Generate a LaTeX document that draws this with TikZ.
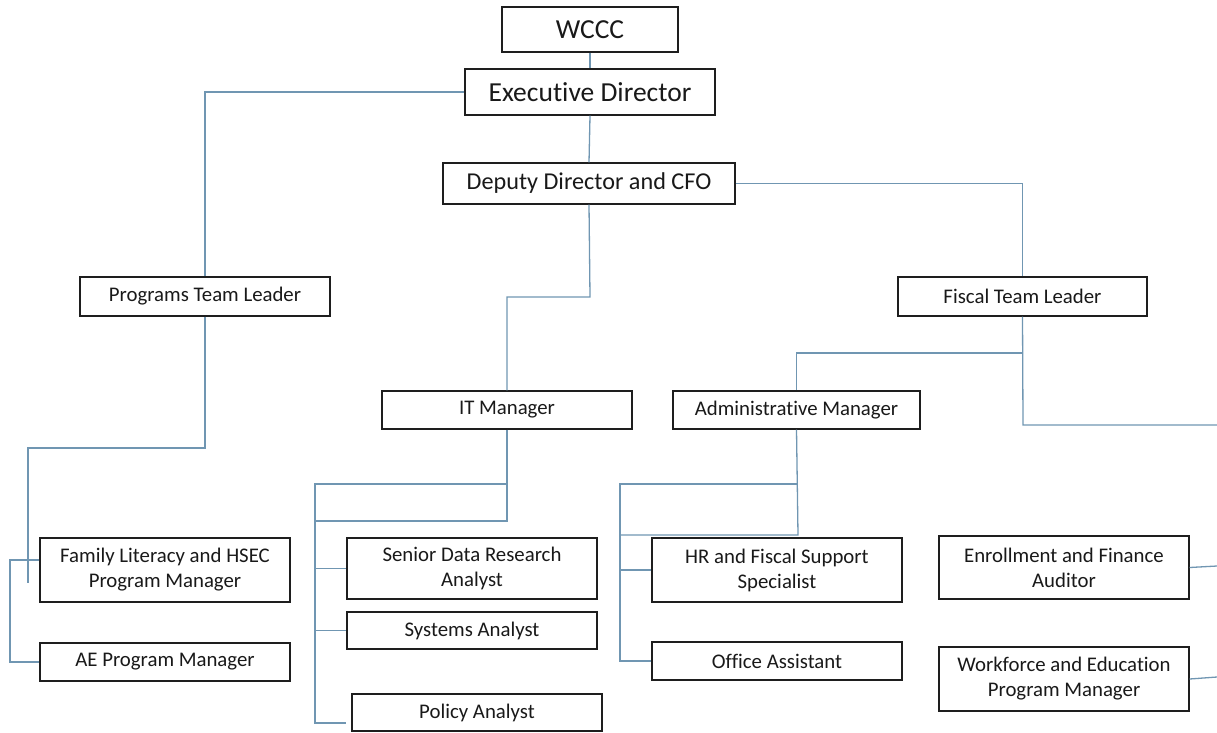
\documentclass[tikz,border=0pt]{standalone}
\usepackage{fontspec}
\setmainfont{Carlito}[RawFeature={-liga;-clig;-calt;-dlig}]
\usetikzlibrary{calc}
\definecolor{conn}{RGB}{112,150,178}
\definecolor{boxline}{RGB}{30,30,30}
\definecolor{txt}{RGB}{25,25,25}
\begin{document}
\begin{tikzpicture}[x=1pt,y=-1pt,
  orgbox/.style={draw=boxline, line width=1.2pt, fill=white, text=txt, align=center, inner sep=0pt,
    font=\fontsize{20.8}{25}\selectfont},
  bigbox/.style={orgbox, font=\fontsize{27.5}{31}\selectfont},
  midbox/.style={orgbox, font=\fontsize{24.2}{28}\selectfont},
  link/.style={draw=conn, line width=1.3pt}]
\useasboundingbox (0,0) rectangle (1217,732);

% nodes
\node[bigbox, minimum width=176pt, minimum height=45pt] (wccc) at (590,29.5) {WCCC};
\node[bigbox, minimum width=250pt, minimum height=46pt] (exec) at (590,92) {Executive Director};
\node[midbox, minimum width=292pt, minimum height=41pt] (dep) at (589,183.5) {Deputy Director and CFO};
\node[orgbox, minimum width=250pt, minimum height=39pt] (prog) at (205,296.5) {Programs Team Leader};
\node[orgbox, minimum width=249pt, minimum height=39pt] (fisc) at (1022.5,296.5) {Fiscal Team Leader};
\node[orgbox, minimum width=250pt, minimum height=38pt] (it) at (507,410) {IT Manager};
\node[orgbox, minimum width=247pt, minimum height=38pt] (adm) at (796.5,410) {Administrative Manager};
\node[orgbox, minimum width=250pt, minimum height=64pt] (fam) at (165,570) {Family Literacy and HSEC\\Program Manager};
\node[orgbox, minimum width=250pt, minimum height=38pt] (ae) at (165,662) {AE Program Manager};
\node[orgbox, minimum width=250pt, minimum height=61pt] (sen) at (472,568.5) {Senior Data Research\\Analyst};
\node[orgbox, minimum width=250pt, minimum height=37pt] (sys) at (472,630.5) {Systems Analyst};
\node[orgbox, minimum width=250pt, minimum height=37pt] (pol) at (477,712.5) {Policy Analyst};
\node[orgbox, minimum width=250pt, minimum height=64pt] (hr) at (777,570) {HR and Fiscal Support\\Specialist};
\node[orgbox, minimum width=250pt, minimum height=38pt] (off) at (777,661) {Office Assistant};
\node[orgbox, minimum width=250pt, minimum height=63pt] (enr) at (1064,567.5) {Enrollment and Finance\\Auditor};
\node[orgbox, minimum width=250pt, minimum height=64pt] (wf) at (1064,679) {Workforce and Education\\Program Manager};

% free ends
\coordinate (progend) at (28,583);
\coordinate (polend) at (346,723);
\coordinate (edgeA) at (1217,425);
\coordinate (edgeB) at (1217,566);
\coordinate (edgeC) at (1217,677);

% top chain
\draw[link] (wccc.south) -- (exec.north);
\draw[link] (exec.south) -- (dep.north);
\draw[link] (exec.west) -| (prog.north);
\draw[link] (dep.east) -| (fisc.north);
\draw[link] (dep.south) -- (590,297) -| (it.north);

% programs branch
\draw[link] (prog.south) -- (205,448) -- (28,448) -- (progend);
\draw[link] ($(fam.west)+(0,-10)$) -- (10,560) -- (10,662) -- (ae.west);

% IT branch
\draw[link] (it.south) -- (507,521) -- (315,521);
\draw[link] (507,484) -- (315,484) -- (315,723) -- (polend);
\draw[link] (315,484) -- (315,568.5);
\draw[link] (315,568.5) -- (sen.west);
\draw[link] (315,630.5) -- (sys.west);

% fiscal branch
\draw[link] (fisc.south) -- (1023,425) -- (edgeA);
\draw[link] (1023,353) -| (adm.north);
\draw[link] (adm.south) -- (798,535) -- (620,535);
\draw[link] (798,484) -- (620,484) -- (620,661) -- (off.west);
\draw[link] (620,570) -- (hr.west);
\draw[link] (enr.east) -- (edgeB);
\draw[link] (wf.east) -- (edgeC);
\end{tikzpicture}
\end{document}
